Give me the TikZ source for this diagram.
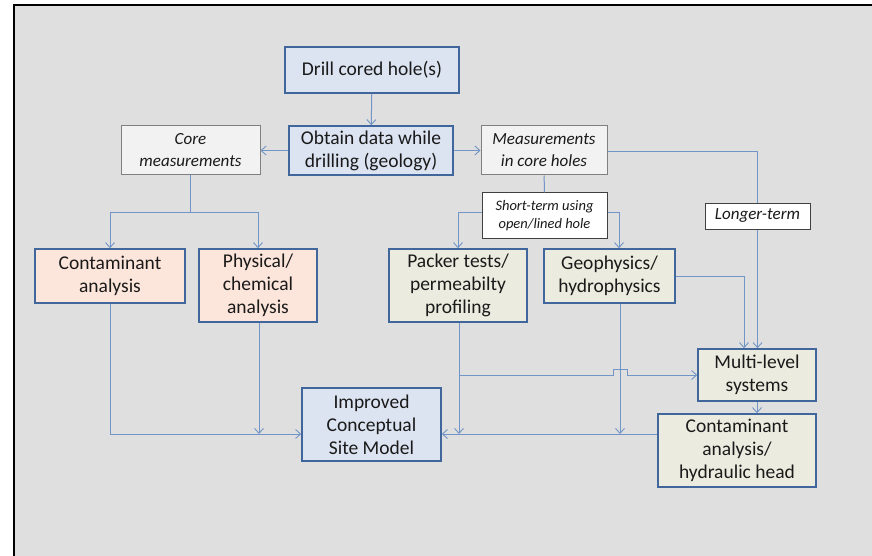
\documentclass[tikz,border=0pt]{standalone}
\usepackage{fontspec}
\setmainfont{Carlito}
\usetikzlibrary{arrows.meta,calc}

\definecolor{panel}{HTML}{DFDFDF}
\definecolor{boxedge}{HTML}{41669C}
\definecolor{bluefill}{HTML}{DCE3F1}
\definecolor{pinkfill}{HTML}{FCE5DA}
\definecolor{greenfill}{HTML}{EBECDF}
\definecolor{palefill}{HTML}{F2F2F2}
\definecolor{paleedge}{HTML}{808080}
\definecolor{linkcol}{HTML}{7095C6}
\definecolor{ink}{HTML}{1A1A1A}

\tikzset{
  mainbox/.style={draw=boxedge, line width=1.6pt, align=center, text=ink,
    inner sep=0pt, font=\fontsize{19.5}{23}\selectfont},
  bluebox/.style={mainbox, fill=bluefill},
  pinkbox/.style={mainbox, fill=pinkfill},
  greenbox/.style={mainbox, fill=greenfill},
  notebox/.style={draw=paleedge, fill=palefill, line width=1pt, align=center,
    text=ink, inner sep=0pt, font=\fontsize{17}{22}\selectfont\itshape},
  tagbox/.style={draw=black!75, fill=white, line width=1pt, align=center,
    text=ink, inner sep=0pt},
  link/.style={draw=linkcol, line width=1pt,
    -{Straight Barb[length=5pt,width=9pt,line width=0.9pt]}},
  plainlink/.style={draw=linkcol, line width=1pt},
}

\begin{document}
\begin{tikzpicture}[x=1pt,y=-1pt]
  \useasboundingbox (0,0) rectangle (872,556);
  \clip (0,0) rectangle (872,556);

  % background panel
  \fill[white] (0,0) rectangle (872,556);
  \draw[line width=2.2pt, fill=panel] (14,5) rectangle (900,600);

  % boxes
  \node[bluebox, minimum width=174pt, minimum height=46pt] (drill) at (372,70) {Drill cored hole(s)};
  \node[bluebox, minimum width=164pt, minimum height=49pt] (obtain) at (371,150.5) {Obtain data while\\drilling (geology)};
  \node[notebox, minimum width=139pt, minimum height=49pt] (core) at (190.5,150.5) {Core\\measurements};
  \node[notebox, minimum width=126pt, minimum height=49pt] (meas) at (544,150.5) {Measurements\\in core holes};
  \node[tagbox, minimum width=125pt, minimum height=45pt,
        font=\fontsize{14.5}{18}\selectfont\itshape] (short) at (544.5,215.5) {Short-term using\\open/lined hole};
  \node[tagbox, minimum width=105pt, minimum height=26pt,
        font=\fontsize{17}{20}\selectfont\itshape] (longer) at (757.5,216) {Longer-term};

  \node[pinkbox, minimum width=150pt, minimum height=54pt] (cont) at (110,276) {Contaminant\\analysis};
  \node[pinkbox, minimum width=118pt, minimum height=73pt] (phys) at (258,285.5) {Physical/\\chemical\\analysis};
  \node[greenbox, minimum width=138pt, minimum height=73pt] (packer) at (458,285.5) {Packer tests/\\permeabilty\\profiling};
  \node[greenbox, minimum width=131pt, minimum height=54pt] (geo) at (609.5,276) {Geophysics/\\hydrophysics};
  \node[greenbox, minimum width=118pt, minimum height=52pt] (multi) at (757,375) {Multi-level\\systems};
  \node[greenbox, minimum width=158pt, minimum height=73pt] (conthy) at (737,450.5) {Contaminant\\analysis/\\hydraulic head};
  \node[bluebox, minimum width=139pt, minimum height=73pt] (csm) at (371.5,424.5) {Improved\\Conceptual\\Site Model};

  % junction points
  \coordinate (cj) at ($(core.south)+(0,37)$);
  \coordinate (hl) at ([yshift=-9.5pt]csm.east);
  \coordinate (gx) at ([xshift=10.5pt]geo.south |- multi.west);

  % top of the tree
  \draw[link] (drill) -- (obtain);
  \draw[link] (obtain) -- (core);
  \draw[link] (obtain) -- (meas);

  % core measurements
  \draw[plainlink] (core) -- (cj);
  \draw[link] (cj) -| (cont);
  \draw[link] (cj) -| (phys);

  % measurements in core holes
  \draw[plainlink] (meas) -- (short);
  \draw[link] ([yshift=3.5pt]short.west) -| (packer.north);
  \draw[link] ([yshift=3.5pt]short.east) -| ([xshift=9.5pt]geo.north);
  \draw[plainlink] ([yshift=-1.5pt]meas.east) -| (longer.north);
  \draw[link] (longer) -- (longer.south |- multi.north);
  \draw[link] (geo.east) -| ([xshift=-13pt]multi.north);
  \draw[link] (multi.south) -- (multi.south |- conthy.north);

  % feeds into the site model
  \draw[link] (cont.south) |- ([yshift=-9.5pt]csm.west);
  \draw[link] ([xshift=1pt]phys.south) -- ([xshift=1pt]phys.south |- hl);
  \draw[link] ([xshift=1pt]packer.south) -- ([xshift=1pt]packer.south |- hl);
  \draw[link] ([xshift=10.5pt]geo.south) -- ([xshift=10.5pt]geo.south |- hl);
  \draw[link] ([yshift=16.5pt]conthy.west) -- (hl);

  % packer tests to multi-level, hopping over the geophysics line
  \draw[link] ([xshift=1pt]packer.south |- multi.west)
    -- ($(gx)+(-7,0)$) -- ($(gx)+(-7,-6)$) -- ($(gx)+(7,-6)$) -- ($(gx)+(7,0)$)
    -- (multi.west);
\end{tikzpicture}
\end{document}
